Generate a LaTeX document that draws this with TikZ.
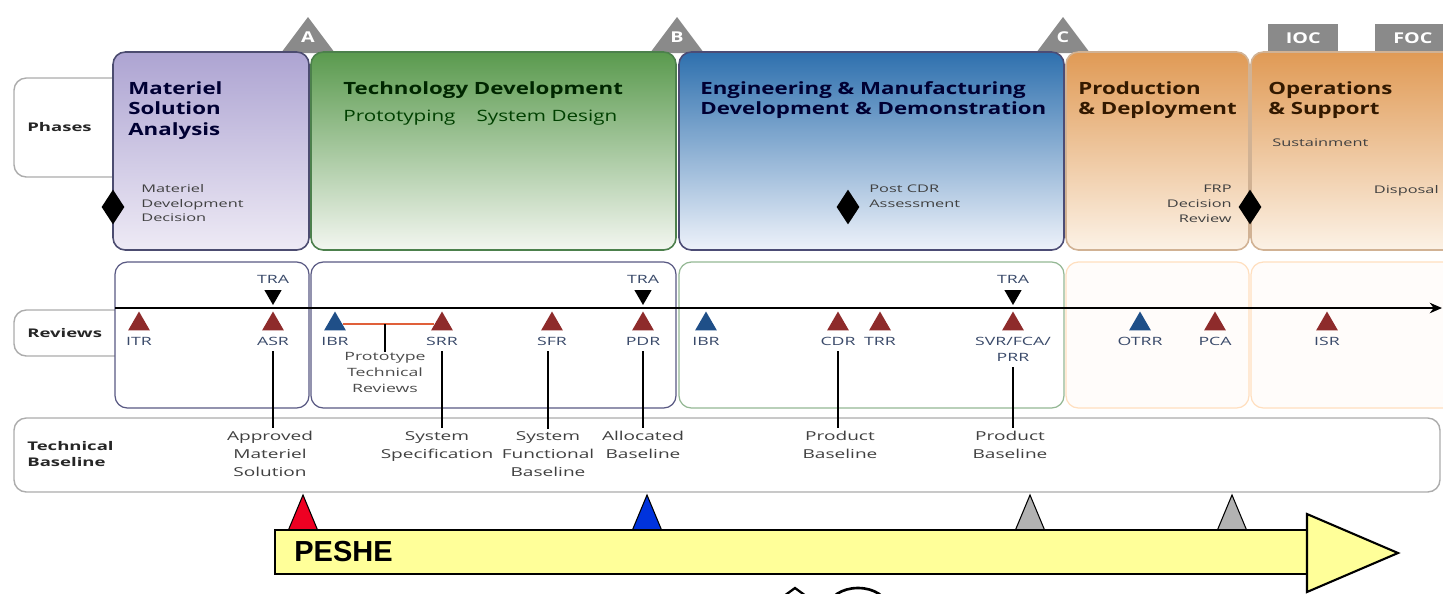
\documentclass[tikz,border=0pt]{standalone}
\usepackage{fontspec}
\setmainfont{Open Sans}[FakeStretch=1.55]
\newfontfamily\titlefont{Open Sans}[FakeStretch=1.32]
\newfontfamily\peshefont{Liberation Sans}
\usetikzlibrary{shapes.geometric,arrows.meta}

\definecolor{msgray}{HTML}{8A8A8A}
\definecolor{revred}{HTML}{8E2B2B}
\definecolor{revblue}{HTML}{1F4F88}
\definecolor{labelblue}{HTML}{3A4A6A}
\definecolor{ptrorange}{HTML}{E0603A}
\definecolor{msatop}{HTML}{ADA4D2}
\definecolor{msabot}{HTML}{EEEAF5}
\definecolor{tdtop}{HTML}{5A9A4E}
\definecolor{tdbot}{HTML}{F3F6F0}
\definecolor{emdtop}{HTML}{2E70AE}
\definecolor{emdbot}{HTML}{EEF2FA}
\definecolor{pdtop}{HTML}{E09A55}
\definecolor{pdbot}{HTML}{FCF2E6}
\definecolor{pesheyellow}{HTML}{FFFF99}
\definecolor{pesheblue}{HTML}{0033DD}
\definecolor{peshered}{HTML}{EE0022}

\tikzset{
  phasebox/.style={rounded corners=7pt, line width=0.9pt},
  revbox/.style={draw, rounded corners=7pt, line width=0.7pt},
  rowbox/.style={draw=gray!65, rounded corners=7pt, line width=0.8pt, fill=white},
  rowlabel/.style={font=\fontsize{6.8}{9}\selectfont\bfseries, align=left, anchor=west, inner sep=0pt, text=black!85},
  phasetitle/.style={font=\titlefont\fontsize{9.6}{11.8}\selectfont\bfseries, align=left, anchor=north west, inner sep=0pt},
  phasesub/.style={font=\titlefont\fontsize{8.9}{10}\selectfont, anchor=north west, inner sep=0pt},
  smalltext/.style={font=\fontsize{6}{8.4}\selectfont, text=black!75, inner sep=0pt, align=left, anchor=north west},
  revmark/.style={regular polygon, regular polygon sides=3, minimum size=0.5cm, inner sep=0pt, fill=revred},
  tramark/.style={revmark, fill=black, shape border rotate=180, minimum size=0.4cm},
  revtext/.style={font=\fontsize{6.5}{9}\selectfont, text=labelblue, inner sep=0pt, anchor=north, align=center},
  basetext/.style={font=\fontsize{7}{10.2}\selectfont, text=black!75, align=center, anchor=north, inner sep=0pt},
  baselink/.style={line width=1pt, shorten <=3pt, shorten >=1.5pt},
  mslabel/.style={font=\titlefont\fontsize{8.5}{10}\selectfont\bfseries, text=white, inner sep=0pt},
  decision/.style={diamond, fill=black, minimum width=0.46cm, minimum height=0.7cm, inner sep=0pt},
  peshemark/.style={draw=black, line width=0.6pt}
}

\begin{document}
\begin{tikzpicture}[x=0.02cm, y=-0.02cm]
\useasboundingbox (0,0) rectangle (1443,593);
\clip (0,0) rectangle (1443,593);

% milestones A, B, C
\foreach \xx/\nm in {308/A, 677/B, 1063/C} {
  \fill[msgray] (\xx-27,53) -- (\xx,17) -- (\xx+27,53) -- cycle;
  \node[mslabel] (ms\nm) at (\xx,37) {\nm};
}
\node[fill=msgray, minimum width=1.4cm, minimum height=0.56cm, inner sep=0pt, anchor=north west,
  font=\titlefont\fontsize{8.5}{10}\selectfont\bfseries, text=white] (ioc) at (1268,24) {IOC};
\node[fill=msgray, minimum width=1.5cm, minimum height=0.56cm, inner sep=0pt, anchor=north west,
  font=\titlefont\fontsize{8.5}{10}\selectfont\bfseries, text=white] (foc) at (1375,24) {FOC};

% phases row
\draw[rowbox] (14,78) rectangle (130,177);
\node[rowlabel] (phases) at (27,127) {Phases};
\draw[phasebox, draw=black!65!blue!40!gray, top color=msatop, bottom color=msabot] (113,52) rectangle (309,250);
\draw[phasebox, draw=black!50!green!40!gray, top color=tdtop, bottom color=tdbot] (311,52) rectangle (676,250);
\draw[phasebox, draw=black!60!blue!40!gray, top color=emdtop, bottom color=emdbot] (679,52) rectangle (1064,250);
\draw[phasebox, draw=orange!40!gray!60, top color=pdtop, bottom color=pdbot] (1066,52) rectangle (1249,250);
\draw[phasebox, draw=orange!40!gray!60, top color=pdtop, bottom color=pdbot] (1251,52) rectangle (1470,250);

\node[phasetitle, text=black!80!blue] (msa) at (128,81) {Materiel\\Solution\\Analysis};
\node[smalltext] (mddtext) at (141,184) {Materiel\\Development\\Decision};
\node[phasetitle, text=black!85!green] (td) at (343,81) {Technology Development};
\node[phasesub, text=black!75!green] (tdsub) at (343,110) {Prototyping\quad\ System Design};
\node[phasetitle, text=black!80!blue] (emd) at (700,81) {Engineering \& Manufacturing\\Development \& Demonstration};
\node[smalltext] (pcdra) at (869,185) {Post CDR\\Assessment};
\node[phasetitle, text=black!80!orange] (pd) at (1078,81) {Production\\\& Deployment};
\node[smalltext, align=right, anchor=north east] (frptext) at (1232,185) {FRP\\Decision\\Review};
\node[phasetitle, text=black!80!orange] (os) at (1268,81) {Operations\\\& Support};
\node[smalltext] (sust) at (1272,138) {Sustainment};
\node[smalltext, anchor=north east] (disp) at (1439,185) {Disposal};

\node[decision] (mdd) at (113,207) {};
\node[decision] (cdra) at (848,207) {};
\node[decision] (frp) at (1250,207) {};

% reviews row
\draw[rowbox] (14,310) rectangle (130,356);
\node[rowlabel] (reviews) at (27,333) {Reviews};
\draw[revbox, draw=black!45!blue!30!gray, fill=white] (115,262) rectangle (309,408);
\draw[revbox, draw=black!45!blue!30!gray, fill=white] (311,262) rectangle (676,408);
\draw[revbox, draw=green!20!gray!70, fill=white] (679,262) rectangle (1064,408);
\draw[revbox, draw=orange!25!white, fill=orange!2] (1066,262) rectangle (1249,408);
\draw[revbox, draw=orange!25!white, fill=orange!2] (1251,262) rectangle (1470,408);

\coordinate (tlstart) at (115,308);
\coordinate (tlend) at (1442,308);
\draw[line width=1pt, -{Stealth[length=7pt, width=6pt]}] (tlstart) -- (tlend);

\foreach \nm/\xx/\cl/\tx in {ITR/139/revred/ITR, ASR/273/revred/ASR, IBRa/335/revblue/IBR,
    SRR/442/revred/SRR, SFR/552/revred/SFR, PDR/643/revred/PDR, IBRb/706/revblue/IBR,
    CDR/838/revred/CDR, TRR/880/revred/TRR, OTRR/1140/revblue/OTRR, PCA/1215/revred/PCA,
    ISR/1327/revred/ISR} {
  \node[revmark, fill=\cl] (m\nm) at (\xx,324) {};
  \node[revtext] (r\nm) at (\xx,337) {\tx};
}
\node[revmark] (mSVR) at (1013,324) {};
\node[revtext] (rSVR) at (1013,337) {SVR/FCA/\\PRR};

\foreach \xx/\nm in {273/a, 643/b, 1013/c} {
  \node[tramark] (tra\nm) at (\xx,295) {};
  \node[revtext, anchor=south] (tratext\nm) at (\xx,284) {TRA};
}

\draw[ptrorange, line width=0.8pt] (mIBRa.east) -- (mSRR.west);
\node[revtext, text=black!70] (ptr) at (385,352) {Prototype\\Technical\\Reviews};
\draw[line width=0.8pt] (ptr.north) -- (ptr.north |- mIBRa.east);

% technical baseline row
\draw[rowbox] (14,418) rectangle (1440,492);
\node[rowlabel] (techbase) at (27,454) {Technical\\Baseline};
\node[basetext] (bAMS) at (270,431) {Approved\\Materiel\\Solution};
\node[basetext] (bSS) at (437,431) {System\\Specification};
\node[basetext] (bSFB) at (548,431) {System\\Functional\\Baseline};
\node[basetext] (bAB) at (643,431) {Allocated\\Baseline};
\node[basetext] (bPBa) at (840,431) {Product\\Baseline};
\node[basetext] (bPBb) at (1010,431) {Product\\Baseline};

\draw[baselink] (rASR.south) -- (rASR.south |- bAMS.north);
\draw[baselink] (rSRR.south) -- (rSRR.south |- bSS.north);
\draw[baselink, shorten <=0pt, shorten >=3pt] (bSFB.north) ++(0,-2) -- (bSFB.north |- rSFR.south);
\draw[baselink] (rPDR.south) -- (rPDR.south |- bAB.north);
\draw[baselink] (rCDR.south) -- (rCDR.south |- bPBa.north);
\draw[baselink] (rSVR.south) -- (rSVR.south |- bPBb.north);

% PESHE arrow
\foreach \xx/\cl in {303/peshered, 647/pesheblue, 1030/gray!60, 1232/gray!60} {
  \filldraw[peshemark, fill=\cl] (\xx-15,531) -- (\xx,495) -- (\xx+15,531) -- cycle;
}
\draw[line width=1.5pt, fill=pesheyellow] (275,530) rectangle (1307,574);
\draw[line width=1.2pt, fill=pesheyellow] (1307,514) -- (1398,553) -- (1307,592) -- cycle;
\node[font=\peshefont\bfseries\fontsize{16.5}{18}\selectfont, anchor=west, inner sep=0pt] (peshe) at (294,552) {PESHE};

% cut-off shapes at the bottom edge
\draw[line width=1.3pt] (784,596) -- (795,588) -- (806,596);
\draw[line width=1.5pt] (858,607) ellipse (29 and 19);
\end{tikzpicture}
\end{document}
